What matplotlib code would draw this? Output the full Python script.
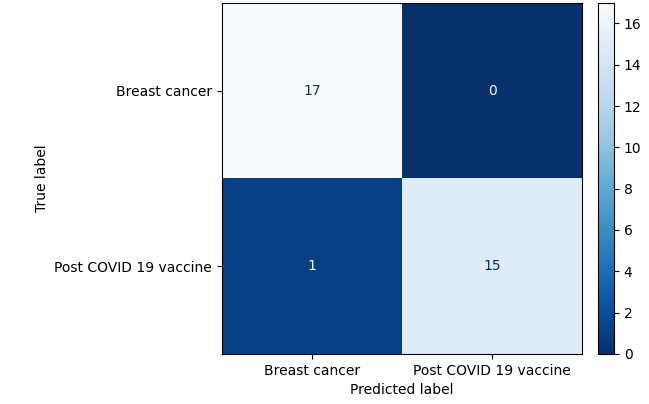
import matplotlib
matplotlib.use("Agg")
import matplotlib.pyplot as plt
import numpy as np

labels = ["Breast cancer", "Post COVID 19 vaccine"]
cm = np.array([[17, 0], [1, 15]])

fig = plt.figure(figsize=(6.49, 4.04), dpi=100)
ax = fig.add_axes([0.342, 0.124, 0.555, 0.869])
cax = fig.add_axes([0.921, 0.124, 0.025, 0.869])
cmap = plt.get_cmap("Blues_r")
im = ax.imshow(cm, cmap=cmap, vmin=0, vmax=17, aspect="auto")
thresh = cm.max() / 2
for i in range(2):
    for j in range(2):
        c = cmap(0.0) if cm[i, j] > thresh else cmap(1.0)
        ax.text(j, i, str(cm[i, j]), ha="center", va="center", color=c, fontsize=10)
ax.set_xticks(range(2))
ax.set_xticklabels(labels)
ax.set_yticks(range(2))
ax.set_yticklabels(labels)
ax.set_xlabel("Predicted label")
ax.set_ylabel("True label")
cb = fig.colorbar(im, cax=cax)
cb.set_ticks(range(0, 17, 2))
fig.savefig("out.png", dpi=100)
